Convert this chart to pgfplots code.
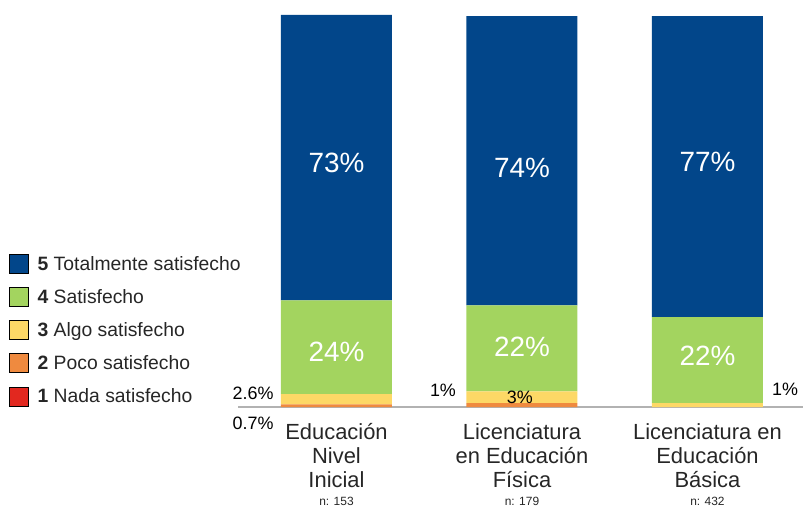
\documentclass[border=0pt]{standalone}
\usepackage{pgfplots}
\pgfplotsset{compat=1.18}
\usepackage{fontspec}
\setmainfont{Liberation Sans}
\definecolor{cfive}{HTML}{02468A}
\definecolor{cfour}{HTML}{A3D45F}
\definecolor{cthree}{HTML}{FDD866}
\definecolor{ctwo}{HTML}{EF8A3F}
\definecolor{cone}{HTML}{E2281F}
\definecolor{txt}{HTML}{262626}
\tikzset{
    inlbl/.style={font=\fontsize{28}{28}\selectfont, text=white},
    smlbl/.style={font=\fontsize{18}{18}\selectfont, text=black},
    catlbl/.style={align=center, anchor=north, text=txt,
        font=\fontsize{22}{24}\selectfont, inner sep=0pt},
    nlbl/.style={text=txt, font=\fontsize{12}{12}\selectfont},
}
\begin{document}
\begin{tikzpicture}
\path[use as bounding box] (0bp,0bp) rectangle (803bp,508bp);
\begin{axis}[
    at={(238bp,101bp)}, anchor=south west,
    scale only axis, width=565bp, height=392bp,
    xmin=-0.531, xmax=2.515, ymin=0, ymax=100.3,
    ybar stacked, bar width=111bp,
    axis y line=none,
    axis x line*=bottom,
    x axis line style={-, draw=black!30, line width=1.6bp},
    xtick=\empty,
    clip=false,
    legend style={at={(-0.4053,0.3903)}, anchor=north west, draw=none, fill=none,
        inner sep=0pt, row sep=13.7bp, column sep=9bp,
        nodes={inner sep=0pt, anchor=west, text=txt, font=\fontsize{19.4}{19.4}\selectfont}},
    legend image code/.code={\fill[#1] (0bp,-9.5bp) rectangle (19bp,9.5bp);},
]
\addplot[fill=ctwo, draw=none, forget plot] coordinates {(0,0.7) (1,1) (2,0)};
\addplot[fill=cthree, draw=none, forget plot] coordinates {(0,2.6) (1,3) (2,1)};
\addplot[fill=cfour, draw=none, forget plot] coordinates {(0,24) (1,22) (2,22)};
\addplot[fill=cfive, draw=none, forget plot] coordinates {(0,73) (1,74) (2,77)};
\addlegendimage{fill=cfive}
\addlegendentry{\textbf{5} Totalmente satisfecho}
\addlegendimage{fill=cfour}
\addlegendentry{\textbf{4} Satisfecho}
\addlegendimage{fill=cthree}
\addlegendentry{\textbf{3} Algo satisfecho}
\addlegendimage{fill=ctwo}
\addlegendentry{\textbf{2} Poco satisfecho}
\addlegendimage{fill=cone}
\addlegendentry{\textbf{1} Nada satisfecho}
% label positions
\coordinate (b5a) at (axis cs:0,62.4);
\coordinate (b5b) at (axis cs:1,61.2);
\coordinate (b5c) at (axis cs:2,62.7);
\coordinate (b4a) at (axis cs:0,14.1);
\coordinate (b4b) at (axis cs:1,15.4);
\coordinate (b4c) at (axis cs:2,13.1);
\coordinate (s1) at (axis cs:-0.45,3.6);
\coordinate (s2) at (axis cs:-0.45,-4.1);
\coordinate (s3) at (axis cs:0.574,4.35);
\coordinate (s4) at (axis cs:0.989,2.6);
\coordinate (s5) at (axis cs:2.418,4.6);
% category labels
\node[catlbl] at (axis cs:0,-4.2) {Educación\\Nivel\\Inicial};
\node[catlbl] at (axis cs:1,-4.2) {Licenciatura\\en Educación\\Física};
\node[catlbl] at (axis cs:2,-4.2) {Licenciatura en\\Educación\\Básica};
\node[nlbl] at (axis cs:0,-24.1) {n: 153};
\node[nlbl] at (axis cs:1,-24.1) {n: 179};
\node[nlbl] at (axis cs:2,-24.1) {n: 432};
\end{axis}
\node[inlbl] at (b5a) {73\%};
\node[inlbl] at (b5b) {74\%};
\node[inlbl] at (b5c) {77\%};
\node[inlbl] at (b4a) {24\%};
\node[inlbl] at (b4b) {22\%};
\node[inlbl] at (b4c) {22\%};
\node[smlbl] at (s1) {2.6\%};
\node[smlbl] at (s2) {0.7\%};
\node[smlbl] at (s3) {1\%};
\node[smlbl] at (s4) {3\%};
\node[smlbl] at (s5) {1\%};
\end{tikzpicture}
\end{document}
